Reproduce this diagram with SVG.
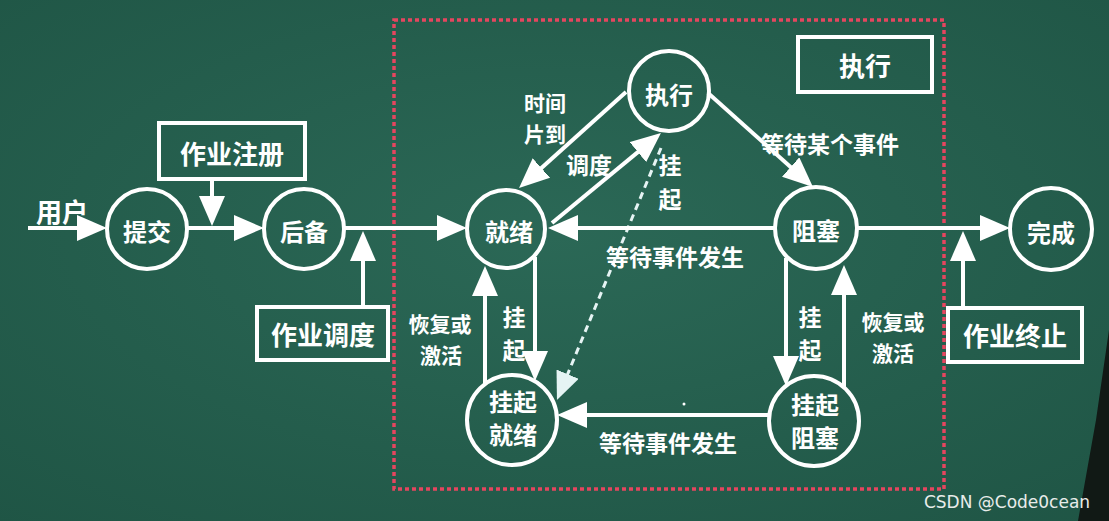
<svg xmlns="http://www.w3.org/2000/svg" width="1109" height="521" viewBox="0 0 1109 521">
<defs>
<radialGradient id="bg" cx="0.5" cy="0.45" r="0.75">
<stop offset="0" stop-color="#2b6856"/>
<stop offset="1" stop-color="#1f5545"/>
</radialGradient>
<marker id="ah" markerUnits="userSpaceOnUse" viewBox="0 0 30 26" refX="22" refY="13" markerWidth="30" markerHeight="26" orient="auto">
<path d="M0,0 L30,13 L0,26 z" fill="#ffffff"/>
</marker>
<marker id="ahd" markerUnits="userSpaceOnUse" viewBox="0 0 28 24" refX="20" refY="12" markerWidth="28" markerHeight="24" orient="auto">
<path d="M0,0 L28,12 L0,24 z" fill="#e6f4f4"/>
</marker>
<style>
text{font-family:"Noto Sans CJK SC","Noto Sans",sans-serif;font-weight:700;fill:#ffffff;text-anchor:middle;dominant-baseline:central}
.node circle{fill:none;stroke:#ffffff;stroke-width:4}
.box rect{fill:none;stroke:#ffffff;stroke-width:4}
.nt{font-size:24px}
.bt{font-size:26px}
.lb{font-size:23px}
.l2{font-size:21px}
.conn path{fill:none;stroke:#ffffff;stroke-width:4;marker-end:url(#ah)}
.conn path.dash{stroke:#e6f4f4;stroke-width:3;stroke-dasharray:7 5;marker-end:url(#ahd)}
</style>
</defs>
<rect x="0" y="0" width="1109" height="521" fill="url(#bg)"/>
<path d="M1109,330 L1109,521 L1078,521 L1096,420 Z" fill="#111915"/>
<rect x="394" y="20" width="550" height="469" fill="none" stroke="#e6455f" stroke-width="3.5" stroke-dasharray="4 3"/>

<g id="connectors" class="conn">
<path d="M28,228 H99"/>
<path d="M187,228 H256"/>
<path d="M212,179 V218"/>
<path d="M344,228 H459"/>
<path d="M363,307 V239"/>
<path d="M857,228 H1002"/>
<path d="M963,308 V239"/>
<path d="M626,92 L525,182.7"/>
<path d="M552,223 L654.8,138.1"/>
<path class="dash" d="M661,148 L560,392.6"/>
<path d="M708,93 L807,181.7"/>
<path d="M776,228 H556"/>
<path d="M485,384 V274"/>
<path d="M535,257 V373"/>
<path d="M786,258 V378"/>
<path d="M844,387 V273"/>
<path d="M769,415 H565"/>
</g>

<g id="n-tijiao" class="node"><circle cx="147" cy="229" r="40"/><text class="nt" x="147" y="230">提交</text></g>
<g id="n-houbei" class="node"><circle cx="304" cy="229" r="40"/><text class="nt" x="304" y="230">后备</text></g>
<g id="n-jiuxu" class="node"><circle cx="506" cy="229" r="39"/><text class="nt" x="509" y="230">就绪</text></g>
<g id="n-zhixing" class="node"><circle cx="669" cy="91" r="40"/><text class="nt" x="669" y="93">执行</text></g>
<g id="n-zuse" class="node"><circle cx="816" cy="228" r="41"/><text class="nt" x="816" y="229">阻塞</text></g>
<g id="n-wancheng" class="node"><circle cx="1051" cy="229" r="41"/><text class="nt" x="1051" y="231">完成</text></g>
<g id="n-gqjx" class="node"><circle cx="512" cy="420" r="45"/><text class="nt" x="513" y="400">挂起<tspan x="513" dy="33">就绪</tspan></text></g>
<g id="n-gqzs" class="node"><circle cx="814" cy="421" r="45"/><text class="nt" x="815" y="403">挂起<tspan x="815" dy="33">阻塞</tspan></text></g>

<g id="b-zhuce" class="box"><rect x="159" y="123" width="146" height="56"/><text class="bt" x="232" y="152">作业注册</text></g>
<g id="b-diaodu" class="box"><rect x="257" y="307" width="131" height="53"/><text class="bt" x="323" y="333">作业调度</text></g>
<g id="b-zhongzhi" class="box"><rect x="948" y="308" width="134" height="54"/><text class="bt" x="1015" y="334">作业终止</text></g>
<g id="b-zhixing" class="box"><rect x="798" y="37" width="134" height="55"/><text class="bt" x="865" y="64">执行</text></g>

<g id="labels">
<text class="bt" x="62" y="210">用户</text>
<text class="l2" x="545" y="102">时间<tspan x="545" dy="31">片到</tspan></text>
<text class="lb" x="589" y="164">调度</text>
<text class="lb" x="670" y="164">挂<tspan x="670" dy="34">起</tspan></text>
<text class="lb" x="830" y="143">等待某个事件</text>
<text class="lb" x="675" y="256">等待事件发生</text>
<text class="l2" x="440" y="323">恢复或<tspan x="441" dy="31">激活</tspan></text>
<text class="lb" x="514" y="316">挂<tspan x="514" dy="33">起</tspan></text>
<text class="lb" x="810" y="316">挂<tspan x="810" dy="33">起</tspan></text>
<text class="l2" x="893" y="321">恢复或<tspan x="893" dy="31">激活</tspan></text>
<text class="lb" x="668" y="442">等待事件发生</text>
</g>
<circle cx="684" cy="404" r="1.5" fill="#ffffff"/>
<text x="1007" y="502" style="font-family:'DejaVu Sans','Noto Sans',sans-serif;font-weight:400;font-size:17px;fill:#e8ecea">CSDN @Code0cean</text>
</svg>
